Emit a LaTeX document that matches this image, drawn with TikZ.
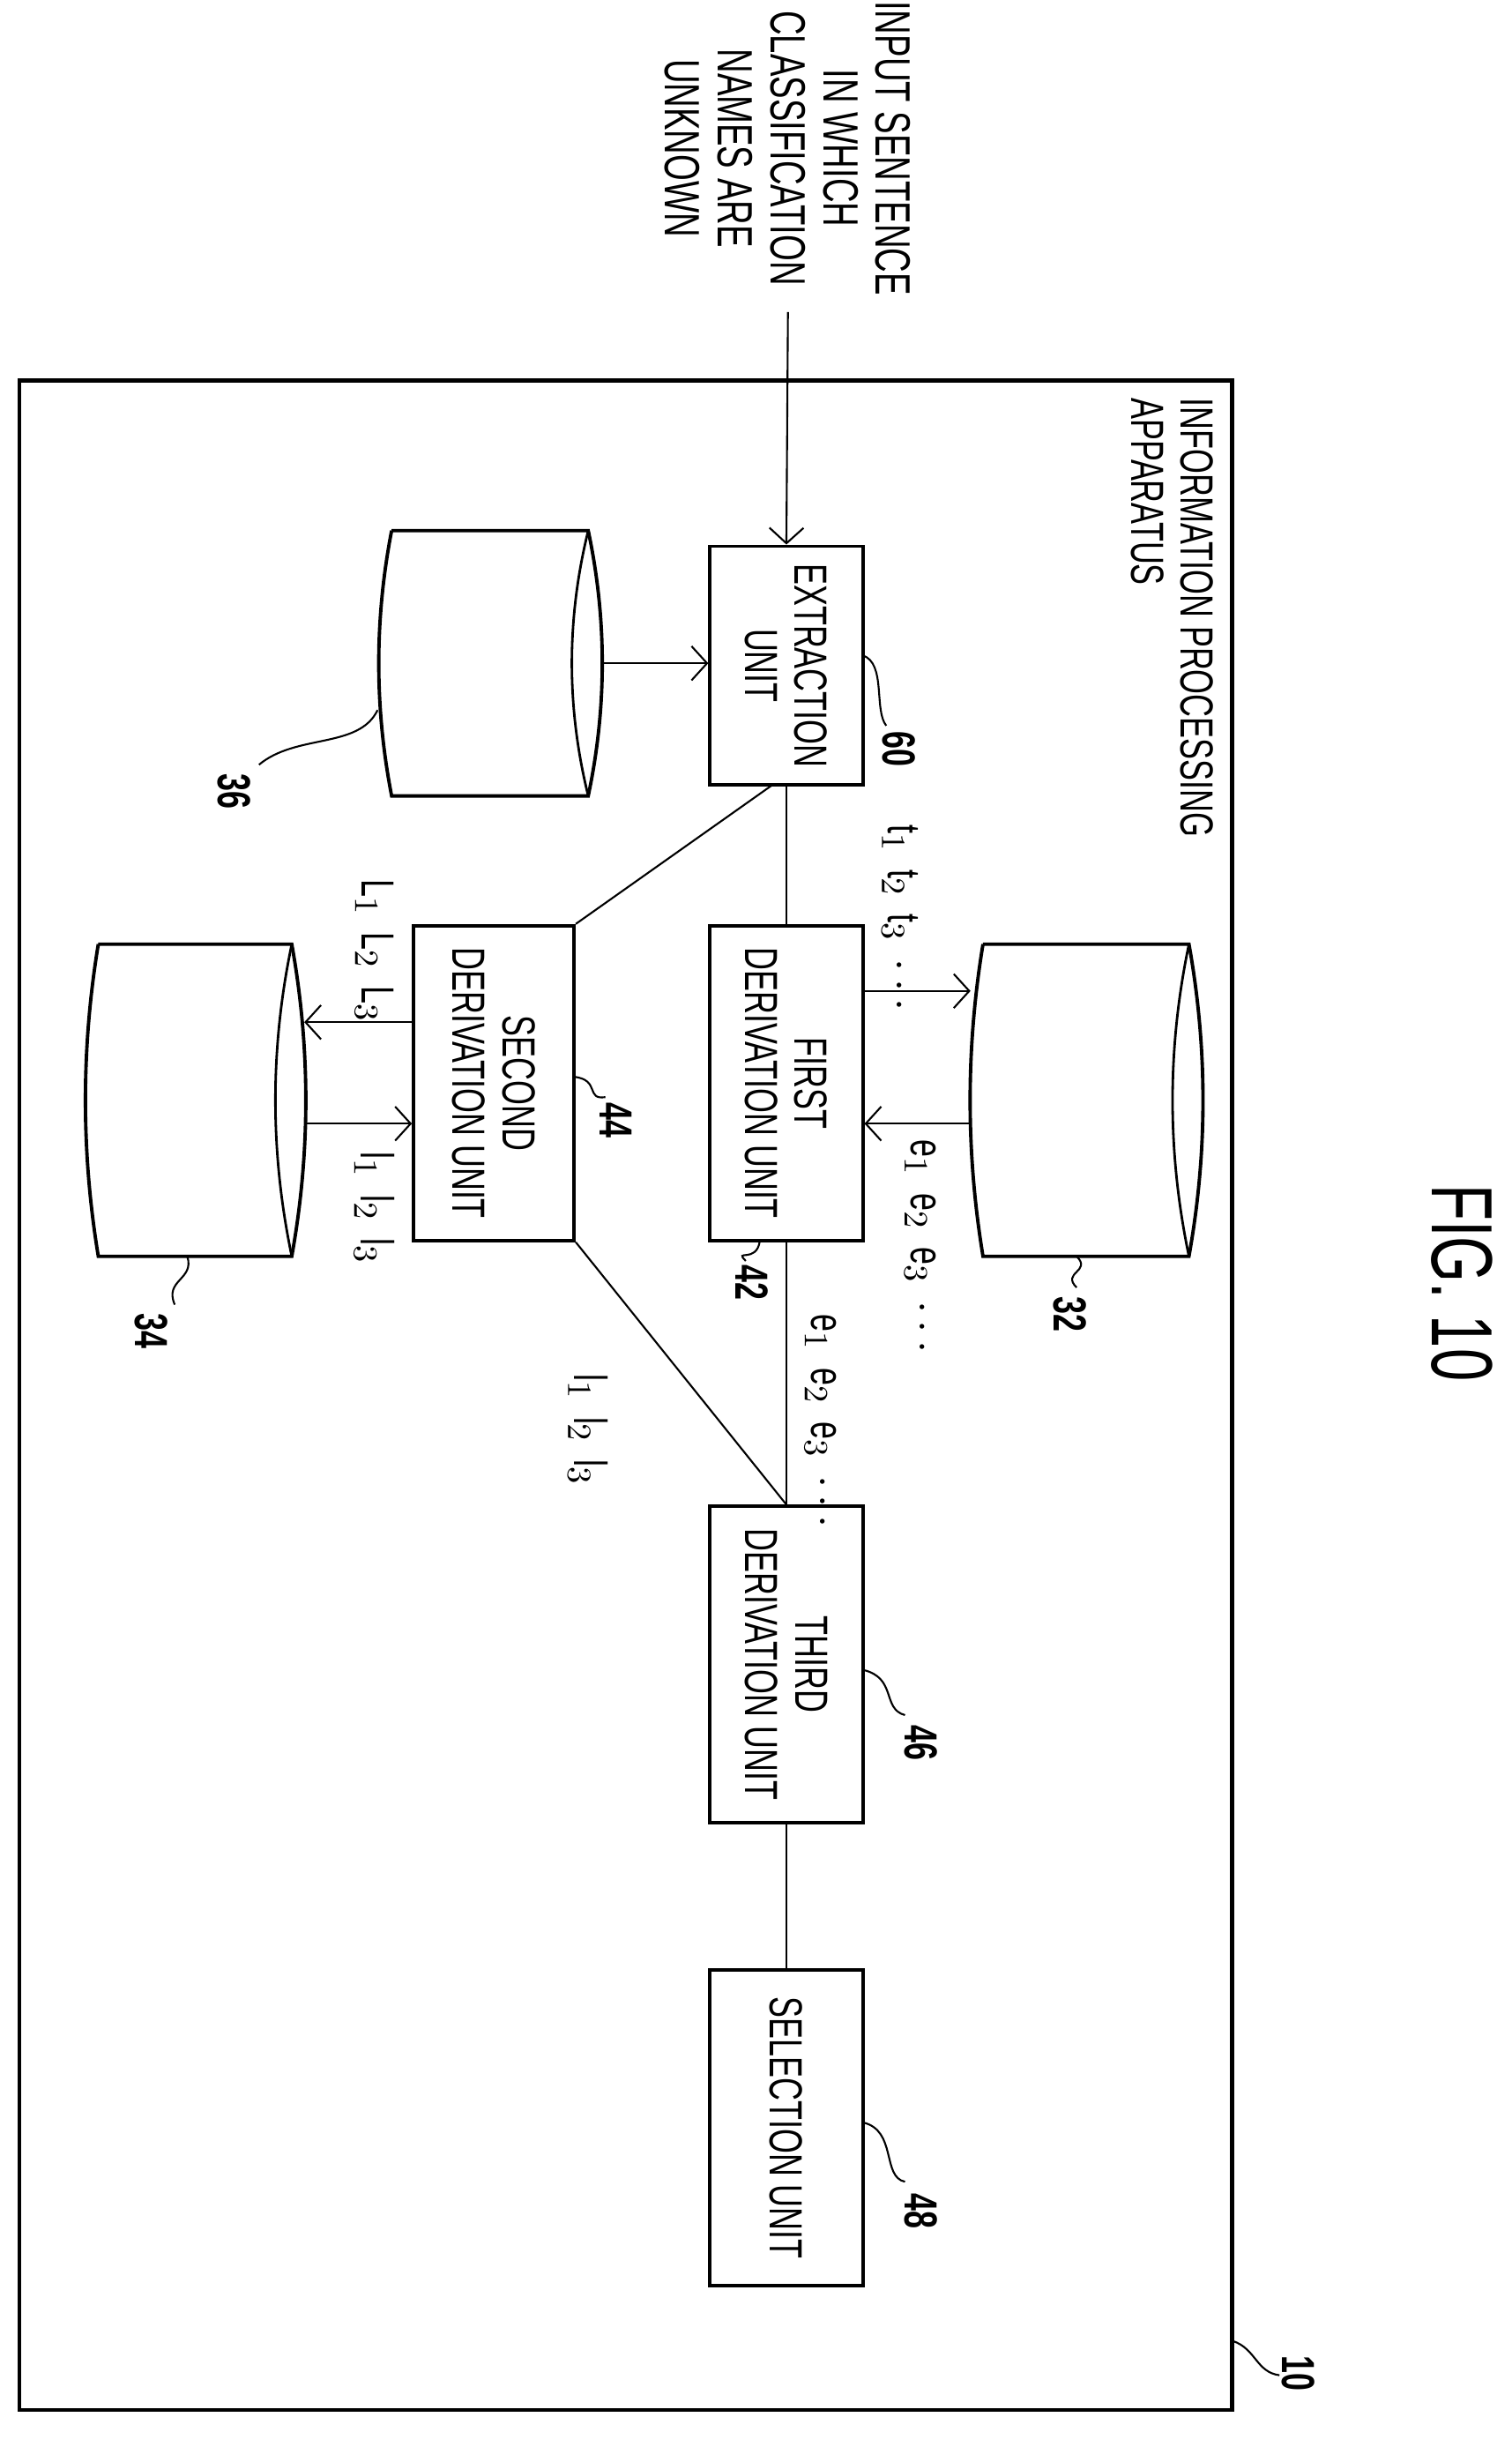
\documentclass[tikz,border=0pt]{standalone}
\usepackage{fontspec}
\setmainfont{Liberation Sans}[FakeStretch=0.68]
\usetikzlibrary{arrows.meta}
\begin{document}
\begin{tikzpicture}[x=0.177mm,y=-0.177mm,
  box/.style={draw,line width=1.1pt,rotate=-90,inner sep=0pt,align=center,font=\fontsize{15}{16}\selectfont},
  txt/.style={rotate=-90,inner sep=0pt,align=center,font=\fontsize{15}{16}\selectfont},
  num/.style={rotate=-90,inner sep=0pt,font=\fontsize{15}{16}\selectfont\bfseries},
  con/.style={line width=0.6pt},
  arr/.style={con,-{Straight Barb[length=5pt,width=11pt]}},
  lead/.style={line width=0.6pt},
  cyl/.style={line width=1.1pt}]
\useasboundingbox (0,0) rectangle (969,1568);
\newcommand\dbdraw[4]{%
  \draw[cyl] ({#1+8},#3) -- ({#2-8},#3) .. controls ({#2+4},{#3+(#4-#3)/3}) and ({#2+4},{#4-(#4-#3)/3}) .. ({#2-8},#4) -- ({#1+8},#4)
     .. controls ({#1-3},{#4-(#4-#3)/3}) and ({#1-3},{#3+(#4-#3)/3}) .. ({#1+8},#3);
  \draw[line width=0.8pt] ({#2-8},#3) .. controls ({#2-22},{#3+(#4-#3)/3}) and ({#2-22},{#4-(#4-#3)/3}) .. ({#2-8},#4);}
% frame
\node (frame) [draw,line width=1.3pt,inner sep=0pt,minimum width=391.3pt,minimum height=655pt] at (401,894) {};
\node (ipa) [txt,anchor=north west,align=left] at (778,255) {INFORMATION PROCESSING\\APPARATUS};
% input
\node (inp) [txt,font=\fontsize{16}{17}\selectfont] at (505,95) {INPUT SENTENCE\\IN WHICH\\CLASSIFICATION\\NAMES ARE\\UNKNOWN};
\coordinate (instart) at (505,200);
% boxes
\node (ext) [box,minimum width=77pt,minimum height=49.3pt] at (504,426.5) {EXTRACTION\\UNIT};
\node (fd) [box,minimum width=101.6pt,minimum height=49.3pt] at (504,694) {FIRST\\DERIVATION UNIT};
\node (sd) [box,minimum width=101.6pt,minimum height=51.8pt] at (316.5,694) {SECOND\\DERIVATION UNIT};
\node (td) [box,minimum width=102pt,minimum height=49.3pt] at (504,1066.5) {THIRD\\DERIVATION UNIT};
\node (sel) [box,minimum width=102pt,minimum height=49.3pt] at (504,1363.5) {SELECTION UNIT};
% databases
\dbdraw{243}{385}{340}{510}
\dbdraw{622}{770}{605}{805}
\dbdraw{55}{195}{605}{805}
\coordinate (d36) at (385,425);
\coordinate (d32a) at (622,635); \coordinate (d32b) at (622,720);
\coordinate (d34a) at (195,655); \coordinate (d34b) at (195,720);
% connectors
\draw[arr] (instart) -- (ext.west);
\draw[arr] (d36) -- (d36 -| ext.south);
\draw[con] (ext.east) -- (fd.west);
\draw[con] (495,503) -- (sd.north west);
\draw[arr] (d32a -| fd.north) -- (d32a);
\draw[arr] (d32b) -- (d32b -| fd.north);
\draw[arr] (d34a -| sd.south) -- (d34a);
\draw[arr] (d34b) -- (d34b -| sd.south);
\draw[con] (fd.east) -- (td.west);
\draw[con] (sd.north east) -- (td.west);
\draw[con] (td.east) -- (sel.west);
% data labels
\node (tl) [txt,anchor=west] at (577,528) {t$_1$\ \ t$_2$\ \ t$_3$\ \ $\cdots$};
\node (el1) [txt,anchor=west] at (590,730) {e$_1$\ \ e$_2$\ \ e$_3$\ \ $\cdots$};
\node (el2) [txt,anchor=west] at (526,842) {e$_1$\ \ e$_2$\ \ e$_3$\ \ $\cdots$};
\node (Ll) [txt,anchor=west] at (240,563) {L$_1$\ \ L$_2$\ \ L$_3$};
\node (ll1) [txt,anchor=west] at (240,738) {l$_1$\ \ l$_2$\ \ l$_3$};
\node (ll2) [txt,anchor=west] at (377,880) {l$_1$\ \ l$_2$\ \ l$_3$};
% reference numbers
\node (n60) [num] at (576,480) {60};
\draw[lead] (553,420) .. controls (568,425) and (560,455) .. (568,465);
\node (n36) [num] at (150,507) {36};
\draw[lead] (242,455) .. controls (230,480) and (190,470) .. (166,490);
\node (n42) [num] at (482,822) {42};
\draw[lead] (487,795) .. controls (485,810) and (470,800) .. (478,808);
\node (n32) [num] at (686,842) {32};
\draw[lead] (690,805) .. controls (700,815) and (680,815) .. (690,825);
\node (n44) [num] at (395,718) {44};
\draw[lead] (368,690) .. controls (385,692) and (375,705) .. (388,703);
\node (n34) [num] at (97,853) {34};
\draw[lead] (120,805) .. controls (125,820) and (105,820) .. (112,836);
\node (n46) [num] at (590,1117) {46};
\draw[lead] (553,1070) .. controls (575,1075) and (565,1095) .. (580,1099);
\node (n48) [num] at (590,1417) {48};
\draw[lead] (553,1360) .. controls (575,1365) and (565,1395) .. (580,1398);
\node (n10) [num] at (832,1521) {10};
\draw[lead] (790,1500) .. controls (805,1505) and (805,1520) .. (820,1522);
\node (fig) [rotate=-90,inner sep=0pt,font=\fontsize{28}{30}\selectfont] at (937,822) {FIG. 10};
\end{tikzpicture}
\end{document}
